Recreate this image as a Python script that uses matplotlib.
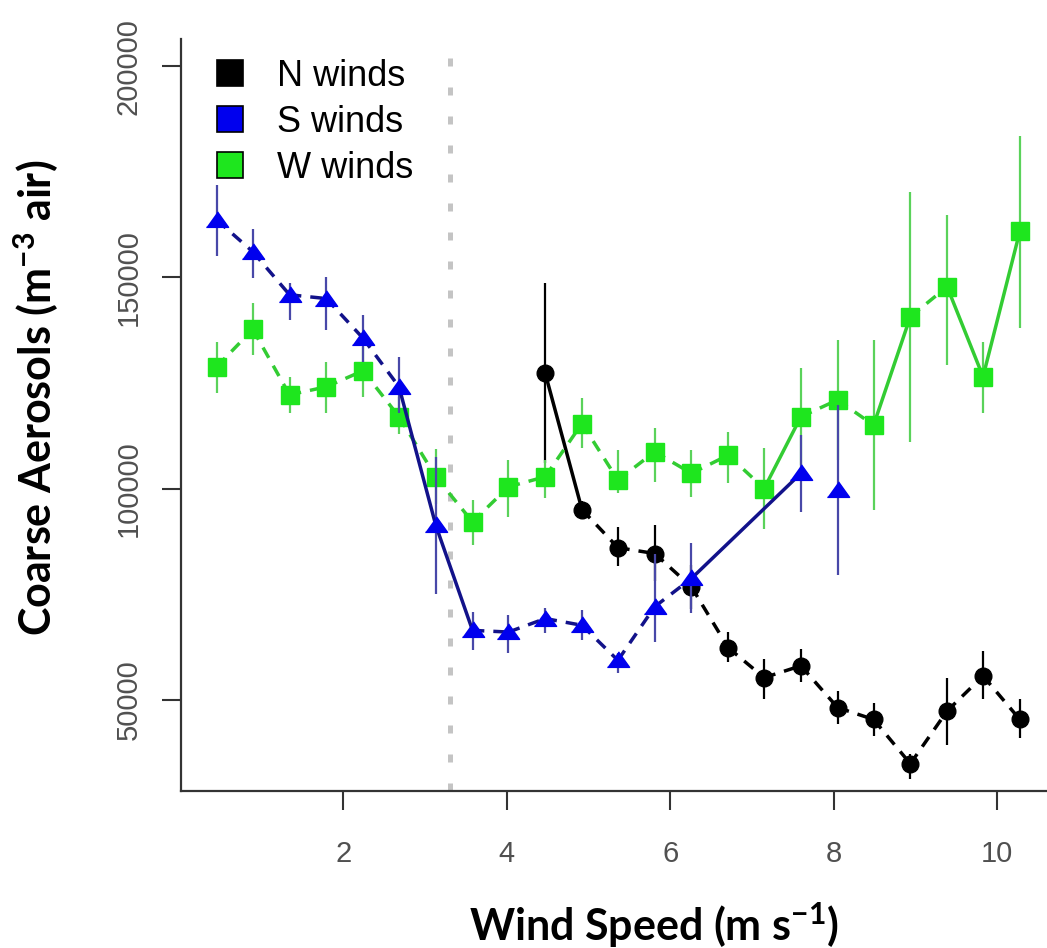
import matplotlib
matplotlib.use("Agg")
import matplotlib.pyplot as plt
from matplotlib.lines import Line2D

plt.rcParams['font.family'] = ['Liberation Sans', 'DejaVu Sans']
plt.rcParams['mathtext.default'] = 'regular'

# wind speed bins (m/s)
n_x = [4.47, 4.92, 5.36, 5.81, 6.26, 6.71, 7.15, 7.60, 8.05, 8.49, 8.94, 9.39, 9.83, 10.28]
n_y = [127300, 95000, 86000, 84600, 76700, 62300, 55200, 58000, 48100, 45300, 34800, 47300, 55600, 45300]
n_lo = [106000, 93000, 81600, 78000, 71500, 58900, 50200, 54200, 44200, 41300, 31300, 39200, 50200, 40800]
n_hi = [148600, 97000, 90900, 91300, 81900, 66000, 59500, 61900, 52000, 49200, 37200, 55000, 61500, 50200]

s_x = [0.45, 0.89, 1.34, 1.79, 2.24, 2.68, 3.13, 3.58, 4.02, 4.47, 4.92, 5.36, 5.81, 6.26, 7.60, 8.05]
s_y = [163600, 156100, 145900, 145000, 135600, 124100, 91300, 66400, 66000, 69200, 67600, 59300, 72000, 78700, 103600, 99600]
s_lo = [155000, 149800, 139900, 137600, 130000, 117800, 75100, 61700, 61000, 65700, 64100, 56200, 63700, 70400, 94500, 79500]
s_hi = [172000, 161400, 148600, 150200, 141100, 131200, 107500, 70800, 70000, 71600, 71200, 61000, 84600, 87100, 112600, 119700]

w_x = [0.45, 0.89, 1.34, 1.79, 2.24, 2.68, 3.13, 3.58, 4.02, 4.47, 4.92, 5.36,
       5.81, 6.26, 6.71, 7.15, 7.60, 8.05, 8.49, 8.94, 9.39, 9.83, 10.28]
w_y = [128900, 137700, 122200, 124100, 127900, 117000, 102800, 92100, 100400, 102800, 115400, 102000,
       108700, 103600, 107900, 100000, 117000, 121000, 115000, 140700, 147800, 126500, 160900]
w_lo = [122600, 131600, 117800, 117800, 121800, 113000, 96300, 86600, 93300, 97700, 109500, 98900,
        101600, 98100, 101200, 90500, 105500, 106800, 94800, 111100, 129300, 117800, 138000]
w_hi = [134800, 143900, 126500, 130000, 133600, 121800, 109300, 97300, 106700, 106700, 121400, 109100,
        114300, 109100, 113500, 109500, 128500, 135200, 135200, 170300, 164800, 134800, 183400]

# how each segment between neighbouring points is drawn
n_seg = ['solid'] + ['dash'] * 12
s_seg = ['dash'] * 5 + ['solid', 'solid'] + ['dash'] * 6 + ['solid', None]
w_seg = ['dash'] * 15 + ['solid', 'dash', 'dash', 'solid', 'dash', 'solid', 'solid']

threshold = 3.30
labels = ['N winds', 'S winds', 'W winds']

fig = plt.figure(figsize=(10.47, 9.48), dpi=100)
ax = fig.add_axes([181 / 1047, 157 / 948, 866 / 1047, 751.7 / 948])

ax.axvline(threshold, color='#c4c4c4', lw=3.6, linestyle=(0, (1.6, 4.2)), zorder=1)


def draw(x, y, lo, hi, seg, line_col, err_col, mk_col, marker, ms, z):
    yerr = [[v - l for v, l in zip(y, lo)], [h - v for v, h in zip(y, hi)]]
    ax.errorbar(x, y, yerr=yerr, fmt='none', ecolor=err_col, elinewidth=1.6, capsize=0, zorder=z)
    for i, st in enumerate(seg):
        if st is None:
            continue
        ls = '-' if st == 'solid' else (0, (3.4, 2.6))
        ax.plot(x[i:i + 2], y[i:i + 2], color=line_col, lw=2.5, linestyle=ls, zorder=z + 0.1)
    ax.plot(x, y, linestyle='none', marker=marker, ms=ms, color=mk_col, mec=mk_col, zorder=z + 0.2)


tri = [(-1, -0.62), (1, -0.62), (0, 0.78)]
draw(n_x, n_y, n_lo, n_hi, n_seg, 'black', 'black', 'black', 'o', 12, 3)
draw(w_x, w_y, w_lo, w_hi, w_seg, '#33cc33', '#5ad25a', '#1ee61e', 's', 13, 4)
draw(s_x, s_y, s_lo, s_hi, s_seg, '#12128a', '#4848a8', '#0000ee', tri, 16, 5)

ax.set_xlim(0.011, 10.613)
ax.set_ylim(28345, 206420)
ax.set_xticks([2, 4, 6, 8, 10])
ax.set_yticks([50000, 100000, 150000, 200000])
ax.set_yticklabels(['50000', '100000', '150000', '200000'], rotation=90, va='center', ha='right')

for side in ['top', 'right']:
    ax.spines[side].set_visible(False)
for side in ['left', 'bottom']:
    ax.spines[side].set_color('#333333')
    ax.spines[side].set_linewidth(1.6)

ax.tick_params(axis='both', length=13.5, width=1.5, color='#333333', labelcolor='#505050', labelsize=21)
ax.tick_params(axis='y', pad=14)
ax.tick_params(axis='x', pad=22)

ax.set_xlabel(r'Wind Speed (m s$^{-1}$)', family=['Lato', 'DejaVu Sans'], fontweight='bold', fontsize=31)
ax.xaxis.set_label_coords(654 / 1047, 1 - 925 / 948, transform=fig.transFigure)
ax.set_ylabel(r'Coarse Aerosols (m$^{-3}$ air)', family=['Lato', 'DejaVu Sans'], fontweight='bold', fontsize=31)
ax.yaxis.set_label_coords(36 / 1047, 1 - 398 / 948, transform=fig.transFigure)
ax.xaxis.label.set_va('center')
ax.yaxis.label.set_va('center')

handles = [Line2D([], [], linestyle='none', marker='s', ms=19, mfc=c, mec='black', mew=1.2)
           for c in ['black', '#0000ee', '#1ee61e']]
ax.legend(handles, labels, loc='upper left', bbox_to_anchor=(212 / 1047, 1 - 59 / 948),
          bbox_transform=fig.transFigure, frameon=False, fontsize=26, handlelength=1.0,
          handletextpad=0.8, labelspacing=0.3, borderpad=0, borderaxespad=0)

fig.savefig('out.png', dpi=100)
